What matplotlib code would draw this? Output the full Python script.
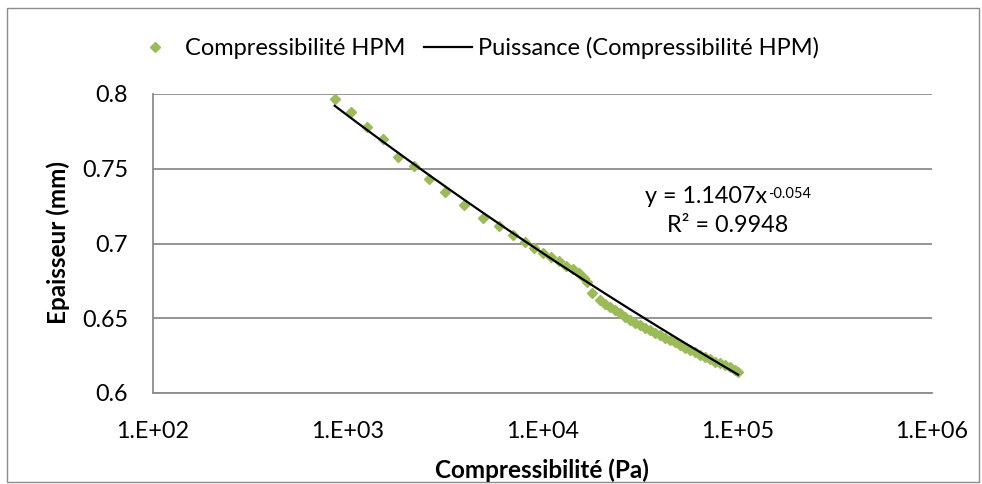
import matplotlib
matplotlib.use("Agg")
import matplotlib.pyplot as plt
from matplotlib.patches import Rectangle
from matplotlib.lines import Line2D
import numpy as np

plt.rcParams["font.family"] = ["Lato", "DejaVu Sans"]

# données
compressibilite = [857, 1040, 1256, 1517, 1820, 2180, 2612, 3155, 3950, 4977,
                   6010, 7040, 8090, 9060, 10000, 11040, 12190, 13250, 14330, 15430,
                   16430, 16900, 17990, 19770, 20980, 22250, 23600, 25040, 26560, 28180,
                   29900, 31710, 33640, 35690, 37860, 40170, 42620, 45210, 47970, 50890,
                   53990, 57280, 60770, 64470, 68400, 72570, 76990, 81680, 86660, 91940,
                   97540, 101000]
epaisseur = [0.7967, 0.7878, 0.7781, 0.7701, 0.7577, 0.7516, 0.7429, 0.7342, 0.7255, 0.7173,
             0.7117, 0.7057, 0.7010, 0.6972, 0.6938, 0.6909, 0.6883, 0.6851, 0.6827, 0.6800,
             0.6767, 0.6744, 0.6667, 0.6622, 0.6598, 0.6577, 0.6555, 0.6535, 0.6511, 0.6488,
             0.6471, 0.6455, 0.6438, 0.6421, 0.6404, 0.6388, 0.6371, 0.6354, 0.6338, 0.6321,
             0.6304, 0.6287, 0.6271, 0.6254, 0.6241, 0.6225, 0.6210, 0.6198, 0.6187, 0.6176,
             0.6157, 0.6142]

# courbe de tendance puissance (coefficients affichés)
coef_a = 1.1407
coef_b = -0.054
r2 = 0.9948

vert = "#9bbb59"
gris = "#8c8c8c"

W, H = 982, 484
fig = plt.figure(figsize=(W / 100, H / 100), dpi=100)
ax = fig.add_axes([153 / W, 1 - 393 / H, (932 - 153) / W, (393 - 94) / H])

ax.plot(compressibilite, epaisseur, linestyle="none", marker="D", markersize=5,
        color=vert, zorder=3)

xt = np.logspace(np.log10(min(compressibilite)), np.log10(max(compressibilite)), 200)
ax.plot(xt, coef_a * xt ** coef_b, color="black", lw=1.6, zorder=4)

ax.set_xscale("log")
ax.set_xlim(1e2, 1e6)
ax.set_ylim(0.6, 0.8)
ax.set_xticks([1e2, 1e3, 1e4, 1e5, 1e6])
ax.set_xticklabels(["1.E+02", "1.E+03", "1.E+04", "1.E+05", "1.E+06"])
ax.xaxis.set_minor_locator(matplotlib.ticker.NullLocator())
ax.set_yticks([0.6, 0.65, 0.7, 0.75, 0.8])
ax.set_yticklabels(["0.6", "0.65", "0.7", "0.75", "0.8"])
ax.tick_params(axis="x", length=0, pad=20, labelsize=16.8)
ax.tick_params(axis="y", length=0, pad=18, labelsize=16.8)

ax.grid(axis="y", color=gris, lw=1.3)
ax.set_axisbelow(True)
for s in ["top", "right"]:
    ax.spines[s].set_visible(False)
for s in ["left", "bottom"]:
    ax.spines[s].set_color(gris)
    ax.spines[s].set_linewidth(1.3)

fig.text(542 / W, 1 - 470 / H, "Compressibilité (Pa)", ha="center", va="center",
         fontsize=17.5, fontweight="bold")
fig.text(58 / W, 1 - 243 / H, "Epaisseur (mm)", ha="center", va="center",
         rotation=90, fontsize=17.5, fontweight="bold")

# équation de la tendance
eq = fig.text(645 / W, 1 - 203 / H, "y = 1.1407x", ha="left", va="baseline",
              fontsize=16.8)
ax.annotate(str(coef_b), xy=(1, 1), xycoords=eq, ha="left", va="top",
            fontsize=10.5, xytext=(0.5, -1), textcoords="offset points")
fig.text(728 / W, 1 - 232 / H, "R² = " + str(r2), ha="center", va="baseline",
         fontsize=16.8)

handles = [Line2D([], [], linestyle="none", marker="D", markersize=5, color=vert),
           Line2D([], [], color="black", lw=1.6)]
fig.legend(handles, ["Compressibilité HPM", "Puissance (Compressibilité HPM)"],
           loc="center left", bbox_to_anchor=(122 / W, 1 - 48 / H), ncol=2,
           frameon=False, borderaxespad=0, fontsize=17, handlelength=2.0,
           handletextpad=0.27, columnspacing=0.8)

fig.patches.append(Rectangle((7 / W, 1 - 482 / H), 972 / W, 474 / H, fill=False,
                             edgecolor=gris, lw=1.0, transform=fig.transFigure))

fig.savefig("out.png", dpi=100)
